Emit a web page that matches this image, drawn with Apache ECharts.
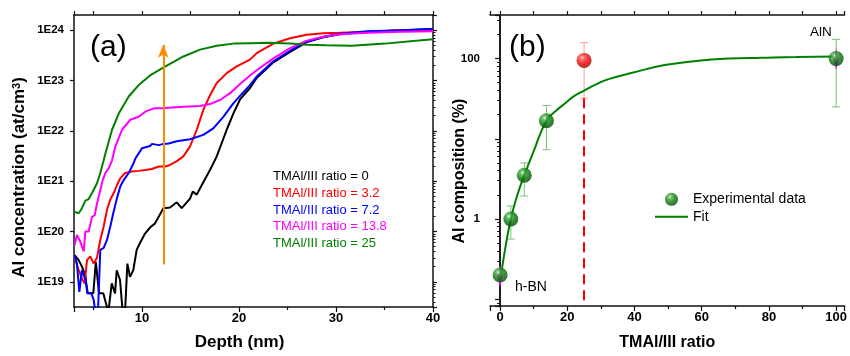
<!DOCTYPE html>
<html>
<head>
<meta charset="utf-8">
<script src="https://cdn.jsdelivr.net/npm/echarts@6/dist/echarts.min.js"></script>
<style>
html,body{margin:0;padding:0;background:#fff;}
#chart{width:850px;height:356px;}
</style>
</head>
<body>
<div id="chart"></div>
<script>
// ---------- Panel (a): Al concentration vs depth ----------
const seriesNames = ['TMAl/III ratio = 0','TMAl/III ratio = 3.2','TMAl/III ratio = 7.2','TMAl/III ratio = 13.8','TMAl/III ratio = 25'];
const seriesColors = ['#000000','#ff0000','#0000ff','#ff00ff','#008000'];

const depthBlack = [3.07,3.48,3.82,4.17,4.37,4.68,4.99,5.25,5.58,6.02,6.3,6.54,6.89,7.23,7.4,7.74,8.02,8.26,8.5,8.77,9.11,9.46,9.8,10.32,10.84,11.35,12.21,12.9,13.59,14.1,14.96,15.24,15.65,16.16,16.68,17.2,17.71,18.74,19.42,20.11,21.14,21.83,23.55,25.27,26.99,28.7,30.4,33.3,36.8,40];
const concBlack  = [3.4e19,2.7e19,2.0e19,1.35e19,5.9e18,5.9e18,5.9e18,2.5e19,5.9e18,5.9e18,3.7e18,2.5e18,9.3e18,5.9e18,1.7e19,1.1e19,2.5e18,2.5e18,2.3e19,1.26e19,1.7e19,4.3e19,5.9e19,9.1e19,1.2e20,1.45e20,2.9e20,3.0e20,3.8e20,2.9e20,4.5e20,6.2e20,5.4e20,8.3e20,1.26e21,1.95e21,3.1e21,1.05e22,2.2e22,4.2e22,7.1e22,1.12e23,2.3e23,3.7e23,5.8e23,7.2e23,8.3e23,9.3e23,1.0e24,1.05e24];

const depthRed = [3.07,3.48,3.82,4.1,4.34,4.68,5.03,5.37,5.71,6.06,6.4,6.74,7.09,7.43,7.77,8.29,8.98,9.67,10.35,11.04,11.73,12.41,12.9,13.59,14.27,14.96,15.65,16.33,17.02,17.71,18.74,19.77,21.14,21.83,23.55,25.27,26.99,28.7,30.4,33.3,36.8,40];
const concRed  = [3.0e19,1.7e19,1.17e19,9.3e18,2.7e19,3.2e19,2.3e19,3.0e19,6.8e19,1.26e20,2.7e20,4.3e20,5.8e20,8.3e20,1.15e21,1.45e21,1.55e21,1.6e21,1.66e21,1.74e21,1.95e21,1.95e21,2.1e21,2.5e21,3.1e21,4.9e21,1.05e22,2.6e22,5.1e22,8.9e22,1.4e23,1.9e23,2.6e23,3.5e23,5.4e23,6.9e23,8.1e23,8.7e23,8.9e23,9.3e23,9.8e23,9.8e23];

const depthBlue = [3.07,3.3,3.55,3.82,4.17,4.44,4.78,5.03,5.2,5.47,5.71,6.06,6.4,6.74,7.09,7.43,7.77,8.12,8.64,9.15,9.32,10.01,10.84,11.04,11.73,12.2,12.76,13.59,14.96,16.33,17.36,18.39,19.42,20.29,21.14,21.83,23.55,25.27,26.99,28.7,30.4,33.3,36.8,40];
const concBlue  = [3.4e19,2.3e19,6.3e18,1.7e19,1.1e19,5.9e18,5.9e18,4.4e18,2.5e18,2.5e18,4.3e19,4.7e19,6.8e19,1.26e20,2.5e20,4.6e20,7.8e20,1.05e21,1.45e21,2.3e21,2.8e21,4.5e21,5.0e21,5.5e21,5.2e21,5.5e21,5.6e21,6.2e21,6.8e21,8.3e21,1.12e22,1.9e22,3.5e22,5.4e22,8.1e22,1.2e23,2.4e23,3.9e23,5.9e23,7.4e23,8.5e23,9.5e23,1.0e24,1.05e24];

const depthMagenta = [3.07,3.3,3.65,4.0,4.17,4.51,4.86,5.13,5.37,5.71,5.96,6.23,6.58,6.92,7.26,7.95,8.8,9.67,10.35,11.22,12.07,13.1,14.27,15.99,17.02,18.05,19.08,20.11,21.14,21.83,23.55,25.27,26.99,28.7,30.4,33.3,36.8,40];
const concMagenta  = [5.4e19,8.5e19,6.3e19,4.0e19,1.0e20,1.0e20,1.95e20,2.1e20,3.6e20,6.6e20,1.05e21,1.45e21,1.8e21,2.6e21,4.9e21,1.05e22,1.66e22,1.9e22,2.4e22,2.8e22,2.8e22,2.9e22,3.0e22,3.1e22,3.4e22,4.1e22,5.6e22,8.5e22,1.26e23,1.6e23,2.75e23,4.4e23,6.2e23,7.4e23,8.3e23,8.9e23,9.3e23,9.5e23];

const depthGreen = [3.07,3.48,3.82,4.17,4.51,4.86,5.37,5.71,6.06,6.23,6.92,7.61,8.64,9.67,10.84,12.2,14.27,15.99,17.71,19.42,21.14,23.0,25.3,27.0,29.0,31.6,35.06,38.5,40];
const concGreen  = [2.45e20,2.3e20,2.9e20,4.1e20,4.4e20,5.8e20,9.1e20,1.45e21,2.6e21,3.5e21,1.05e22,2.2e22,4.8e22,8.1e22,1.26e23,1.8e23,3.0e23,4.1e23,4.9e23,5.4e23,5.5e23,5.6e23,5.4e23,5.1e23,5.0e23,4.9e23,5.4e23,6.2e23,6.6e23];

const arrowDepth = 12.2;
const arrowFrom = 2.2e19;
const arrowTo = 5.1e23;

// ---------- Panel (b): Al composition vs TMAl/III ratio ----------
const ratioX   = [0, 3.2, 7.2, 13.8, 100];
const alComp   = [0.2, 1.0, 3.5, 16.8, 100];
const errLow   = [null, 0.56, 1.93, 7.3, 25];
const errHigh  = [null, 1.45, 5.0, 26, 174];
const magErrX    = [0, 100];
const magErrLow  = [0.14, 71];
const magErrHigh = [0.27, 135];
const redX = [25];
const redY = [95];
const redLow = [32];
const redHigh = [158];
const dashX = 25;
const dashFrom = 32;
const dashTo = 0.082;
const fitX = [0.3, 1.5, 3.2, 5, 7.2, 10, 13.8, 17, 19.5, 22, 25, 29.3, 32.3, 39, 49, 59, 68, 78, 88, 100];
const fitY = [0.2, 0.42, 1.0, 1.9, 3.5, 7.0, 16.8, 23, 28, 34, 40, 49.5, 55.5, 66, 83, 94, 100, 102.6, 104.8, 106];

const FONT = 'Liberation Sans, Arial, sans-serif';
const zip = (a, b) => a.map((v, i) => [v, b[i]]);

const sphere = (c0, c1, c2, c3) => ({
  type: 'radial', x: 0.38, y: 0.32, r: 0.7,
  colorStops: [{offset: 0, color: c0}, {offset: 0.18, color: c1}, {offset: 0.55, color: c2}, {offset: 1, color: c3}]
});

function errRender(color, cap) {
  return function (params, api) {
    const x = api.value(0), lo = api.value(1), hi = api.value(2);
    const a = api.coord([x, hi]), b = api.coord([x, lo]);
    const st = {stroke: color, lineWidth: 1};
    return {type: 'group', children: [
      {type: 'line', shape: {x1: a[0], y1: a[1], x2: b[0], y2: b[1]}, style: st},
      {type: 'line', shape: {x1: a[0] - cap, y1: a[1], x2: a[0] + cap, y2: a[1]}, style: st},
      {type: 'line', shape: {x1: b[0] - cap, y1: b[1], x2: b[0] + cap, y2: b[1]}, style: st}
    ]};
  };
}
function spindleRender(params, api) {
  const x = api.value(0), lo = api.value(1), hi = api.value(2);
  const a = api.coord([x, hi]), b = api.coord([x, lo]);
  const m = (a[1] + b[1]) / 2;
  return {type: 'polygon', shape: {points: [[a[0], a[1]], [a[0] + 2.5, m], [b[0], b[1]], [a[0] - 2.5, m]]},
    style: {fill: '#ff00ff'}};
}

const greenErr = ratioX.map((x, i) => [x, errLow[i], errHigh[i]]).filter(d => d[1] !== null);
const magErr = magErrX.map((x, i) => [x, magErrLow[i], magErrHigh[i]]);
const redErr = redX.map((x, i) => [x, redLow[i], redHigh[i]]);

const axisLineStyle = {show: true, lineStyle: {color: '#111', width: 1.5}};
const boldLabel = {fontFamily: FONT, fontWeight: 'bold', color: '#000'};

const curveDepths = [depthBlack, depthRed, depthBlue, depthMagenta, depthGreen];
const curveConcs = [concBlack, concRed, concBlue, concMagenta, concGreen];

const curveSeries = seriesNames.map((n, i) => ({
  name: n, type: 'line', xAxisIndex: 0, yAxisIndex: 0,
  data: zip(curveDepths[i], curveConcs[i]),
  showSymbol: false, symbol: 'none', clip: true,
  lineStyle: {color: seriesColors[i], width: 2}, itemStyle: {color: seriesColors[i]},
  z: 3
}));

const option = {
  animation: false,
  backgroundColor: '#fff',
  textStyle: {fontFamily: FONT},
  grid: [
    {left: 74, top: 15, width: 359, height: 292},
    {left: 490, top: 15, width: 357.7, height: 292.3}
  ],
  legend: [
    {
      data: seriesNames.map((n, i) => ({name: n, textStyle: {color: seriesColors[i]}})),
      orient: 'vertical', left: 263, top: 165.2, itemWidth: 0, itemHeight: 0, itemGap: 3.7,
      icon: 'rect', selectedMode: false,
      textStyle: {fontFamily: FONT, fontSize: 13, lineHeight: 13}
    },
    {
      data: [{name: 'Experimental data', icon: 'circle'}, {name: 'Fit', icon: 'path://M0 0H100V6H0Z'}],
      orient: 'vertical', left: 650, top: 187.3, itemWidth: 33, itemHeight: 13, itemGap: 3.4,
      selectedMode: false,
      textStyle: {fontFamily: FONT, fontSize: 14, lineHeight: 14, color: '#000'}
    }
  ],
  xAxis: [
    {gridIndex: 0, type: 'value', position: 'bottom', min: 3, max: 40, splitNumber: 4,
      axisLine: axisLineStyle, splitLine: {show: false},
      axisTick: {show: true, inside: false, length: 5, lineStyle: {color: '#111', width: 1.2}},
      minorTick: {show: true, splitNumber: 2, length: 3, lineStyle: {color: '#111', width: 1.2}},
      axisLabel: Object.assign({fontSize: 13, margin: 5, showMinLabel: false}, boldLabel),
      name: 'Depth (nm)', nameLocation: 'middle', nameGap: 27,
      nameTextStyle: {fontFamily: FONT, fontWeight: 'bold', fontSize: 17, color: '#000', padding: [0, 28, 0, 0]}},
    {gridIndex: 0, type: 'value', position: 'top', min: 3, max: 40, splitNumber: 4,
      axisLine: axisLineStyle, splitLine: {show: false}, axisLabel: {show: false},
      axisTick: {show: true, inside: false, length: 4, lineStyle: {color: '#111', width: 1.2}},
      minorTick: {show: true, splitNumber: 2, length: 4, lineStyle: {color: '#111', width: 1.2}}},
    {gridIndex: 1, type: 'value', position: 'bottom', min: -3, max: 102.5, splitNumber: 5,
      axisLine: axisLineStyle, splitLine: {show: false},
      axisTick: {show: true, inside: false, length: 5, lineStyle: {color: '#111', width: 1.2}},
      minorTick: {show: true, splitNumber: 2, length: 3, lineStyle: {color: '#111', width: 1.2}},
      axisLabel: Object.assign({fontSize: 13, margin: 5, showMinLabel: false, showMaxLabel: false}, boldLabel),
      name: 'TMAl/III ratio', nameLocation: 'middle', nameGap: 29,
      nameTextStyle: {fontFamily: FONT, fontWeight: 'bold', fontSize: 16, color: '#000'}},
    {gridIndex: 1, type: 'value', position: 'top', min: -3, max: 102.5, splitNumber: 5,
      axisLine: axisLineStyle, splitLine: {show: false}, axisLabel: {show: false},
      axisTick: {show: true, inside: false, length: 4, lineStyle: {color: '#111', width: 1.2}},
      minorTick: {show: true, splitNumber: 2, length: 4, lineStyle: {color: '#111', width: 1.2}}}
  ],
  yAxis: [
    {gridIndex: 0, type: 'log', logBase: 10, position: 'left', min: 3.16e18, max: 2.0e24,
      axisLine: axisLineStyle, splitLine: {show: false},
      axisTick: {show: true, inside: false, length: 4, lineStyle: {color: '#111', width: 1.2}},
      axisLabel: Object.assign({fontSize: 11.5, margin: 10, showMinLabel: false, showMaxLabel: false,
        formatter: v => '1E' + Math.round(Math.log10(v))}, boldLabel),
      name: 'Al concentration (at/cm{s|3})', nameLocation: 'middle', nameGap: 46, nameRotate: 90,
      nameMoveOverlap: false,
      nameTextStyle: {fontFamily: FONT, fontWeight: 'bold', fontSize: 17, color: '#000', padding: [0, 33, 0, 0],
        rich: {s: {fontFamily: FONT, fontWeight: 'bold', fontSize: 11, verticalAlign: 'top', lineHeight: 10, color: '#000'}}}},
    {gridIndex: 0, type: 'log', logBase: 10, position: 'right', min: 3.16e18, max: 2.0e24,
      axisLine: axisLineStyle, splitLine: {show: false}, axisLabel: {show: false},
      axisTick: {show: true, inside: false, length: 4, lineStyle: {color: '#111', width: 1.2}},
      minorTick: {show: true, splitNumber: 9, length: 2.5, lineStyle: {color: '#111', width: 1}}},
    {gridIndex: 1, type: 'log', logBase: 10, position: 'left', min: 0.082, max: 350,
      axisLine: axisLineStyle, splitLine: {show: false},
      axisTick: {show: true, inside: false, length: 5, lineStyle: {color: '#111', width: 1.2}},
      minorTick: {show: true, splitNumber: 9, length: 3, lineStyle: {color: '#111', width: 1}},
      axisLabel: Object.assign({fontSize: 11.5, margin: 10, showMinLabel: false, showMaxLabel: false,
        formatter: v => { const e = Math.round(Math.log10(v)); return e === 0 ? '1' : (e === 2 ? '100' : ''); }}, boldLabel),
      name: 'Al composition (%)', nameLocation: 'middle', nameGap: 22, nameRotate: 90,
      nameMoveOverlap: false,
      nameTextStyle: {fontFamily: FONT, fontWeight: 'bold', fontSize: 16, color: '#000', padding: [0, 21, 0, 0]}},
    {gridIndex: 1, type: 'log', logBase: 10, position: 'right', min: 0.082, max: 350,
      axisLine: axisLineStyle, splitLine: {show: false}, axisLabel: {show: false}, axisTick: {show: false}}
  ],
  series: curveSeries.concat([
    {name: 'arrow', type: 'line', xAxisIndex: 0, yAxisIndex: 0, data: [], z: 5,
      markLine: {silent: true, symbol: ['none', 'arrow'], symbolSize: [8, 13], label: {show: false},
        lineStyle: {color: '#ff8c00', width: 2, type: 'solid'},
        data: [[{coord: [arrowDepth, arrowFrom]}, {coord: [arrowDepth, arrowTo]}]]}},
    // panel b
    {name: 'redDash', type: 'line', xAxisIndex: 2, yAxisIndex: 2, data: [], z: 2,
      markLine: {silent: true, symbol: ['none', 'none'], label: {show: false},
        lineStyle: {color: '#ff0000', width: 2, type: [10, 6]},
        data: [[{coord: [dashX, dashFrom]}, {coord: [dashX, dashTo]}]]}},
    {name: 'greenErr', type: 'custom', xAxisIndex: 2, yAxisIndex: 2, data: greenErr, z: 3,
      encode: {x: 0, y: [1, 2]}, renderItem: errRender('#7fbf7f', 4), clip: false},
    {name: 'redErr', type: 'custom', xAxisIndex: 2, yAxisIndex: 2, data: redErr, z: 3,
      encode: {x: 0, y: [1, 2]}, renderItem: errRender('#ff9c9c', 4), clip: false},
    {name: 'magErr', type: 'custom', xAxisIndex: 2, yAxisIndex: 2, data: magErr, z: 4,
      encode: {x: 0, y: [1, 2]}, renderItem: spindleRender, clip: false},
    {name: 'Fit', type: 'line', xAxisIndex: 2, yAxisIndex: 2, data: zip(fitX, fitY),
      showSymbol: false, symbol: 'none', smooth: 0.5, z: 5,
      lineStyle: {color: '#008000', width: 2}, itemStyle: {color: '#008000'}},
    {name: 'Experimental data', type: 'scatter', xAxisIndex: 2, yAxisIndex: 2, data: zip(ratioX, alComp),
      symbol: 'circle', symbolSize: 15, z: 6,
      itemStyle: {color: sphere('#f0fff0', '#55b255', '#0a7a0a', '#004a00')}},
    {name: 'redPoint', type: 'scatter', xAxisIndex: 2, yAxisIndex: 2, data: zip(redX, redY),
      symbol: 'circle', symbolSize: 15, z: 6,
      itemStyle: {color: sphere('#fff0f0', '#ff5555', '#f00000', '#a00000')}}
  ]),
  graphic: [
    {type: 'text', left: 90, top: 33, style: {text: '(a)', font: '30px ' + FONT, fill: '#000'}},
    {type: 'text', left: 509, top: 33, style: {text: '(b)', font: '30px ' + FONT, fill: '#000'}},
    {type: 'text', left: 515, top: 280, style: {text: 'h-BN', font: '14px ' + FONT, fill: '#000'}},
    {type: 'text', left: 810, top: 25, style: {text: 'AlN', font: '13.5px ' + FONT, fill: '#000'}}
  ]
};

const chart = echarts.init(document.getElementById('chart'), null, {renderer: 'canvas'});
chart.setOption(option);
</script>
</body>
</html>
